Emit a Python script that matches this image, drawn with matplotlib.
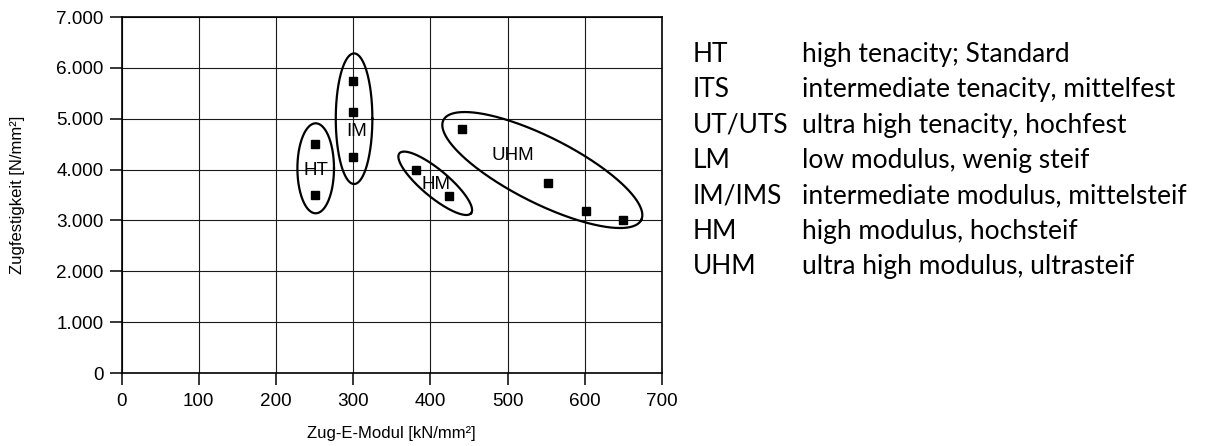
import numpy as np
import matplotlib
matplotlib.use('Agg')
import matplotlib.pyplot as plt

# Messpunkte (Zug-E-Modul / Zugfestigkeit)
modul = [250, 250, 300, 300, 300, 382, 424, 441, 552, 601, 650]
festigkeit = [4500, 3500, 5740, 5125, 4250, 3990, 3487, 4790, 3730, 3185, 3005]

# Gruppen (Label, x, y)
gruppen = ['HT', 'IM', 'HM', 'UHM']
gruppen_x = [252, 305, 407, 507]
gruppen_y = [3980, 4745, 3716, 4286]

x_ticks = [0, 100, 200, 300, 400, 500, 600, 700]
y_ticks = [0, 1000, 2000, 3000, 4000, 5000, 6000, 7000]
y_tick_labels = ['0', '1.000', '2.000', '3.000', '4.000', '5.000', '6.000', '7.000']

kuerzel = ['HT', 'ITS', 'UT/UTS', 'LM', 'IM/IMS', 'HM', 'UHM']
beschreibung = ['high tenacity; Standard',
                'intermediate tenacity, mittelfest',
                'ultra high tenacity, hochfest',
                'low modulus, wenig steif',
                'intermediate modulus, mittelsteif',
                'high modulus, hochsteif',
                'ultra high modulus, ultrasteif']

W, H = 1215, 446
fig = plt.figure(figsize=(W / 100, H / 100), dpi=100)
ax_l, ax_r, ax_t, ax_b = 121.5, 662, 17, 373
ax = fig.add_axes([ax_l / W, (H - ax_b) / H, (ax_r - ax_l) / W, (ax_b - ax_t) / H])

plt.rcParams['font.family'] = ['Liberation Sans', 'DejaVu Sans']

ax.set_xlim(0, 700)
ax.set_ylim(0, 7000)
ax.set_xticks(x_ticks)
ax.set_yticks(y_ticks)
ax.set_yticklabels(y_tick_labels)
ax.tick_params(direction='out', length=8.6, width=1.1, labelsize=13.6, colors='black')
ax.tick_params(axis='y', pad=4.5)
ax.tick_params(axis='x', pad=6)
for lbl in ax.get_xticklabels() + ax.get_yticklabels():
    lbl.set_family('Liberation Sans')
ax.grid(True, color='#1a1a1a', linewidth=0.8)
ax.set_axisbelow(True)
for s in ax.spines.values():
    s.set_linewidth(1.2)

ax.plot(modul, festigkeit, 's', color='black', markersize=5.8, zorder=4)

# Ellipsen um die Gruppen (Halbachsen in Pixel, Winkel am Bildschirm)
sx = (ax_r - ax_l) / 700
sy = (ax_b - ax_t) / 7000
ellipsen = [(251.5, 4025, 18.3, 45, 0),
            (301.2, 5000, 18.3, 65.3, 0),
            (406.3, 3730, 46.7, 13.5, 39.9),
            (545, 3991, 110.8, 33, 26.8)]
t = np.linspace(0, 2 * np.pi, 300)
for cx, cy, a, b, ang in ellipsen:
    r = np.radians(ang)
    px = a * np.cos(t) * np.cos(r) + b * np.sin(t) * np.sin(r)
    py = -a * np.cos(t) * np.sin(r) + b * np.sin(t) * np.cos(r)
    ax.plot(cx + px / sx, cy + py / sy, color='black', linewidth=1.6, zorder=3)

for name, gx, gy in zip(gruppen, gruppen_x, gruppen_y):
    ax.text(gx, gy, name, ha='center', va='center', fontsize=13.5,
            family='Liberation Sans', zorder=5)

fig.text(((ax_l + ax_r) / 2) / W, 1 - 438 / H, 'Zug-E-Modul [kN/mm²]', ha='center',
         va='baseline', fontsize=12, family='Liberation Sans')
fig.text(18 / W, 1 - ((ax_t + ax_b) / 2) / H, 'Zugfestigkeit [N/mm²]', ha='center',
         va='center', rotation=90, fontsize=12, family='Liberation Sans')

# Legende rechts
for i, (k, d) in enumerate(zip(kuerzel, beschreibung)):
    yb = 1 - (61.7 + 35.4 * i) / H
    fig.text(693 / W, yb, k, ha='left', va='baseline', fontsize=19, family='Lato')
    fig.text(802 / W, yb, d, ha='left', va='baseline', fontsize=19, family='Lato')

fig.savefig('out.png', dpi=100)
